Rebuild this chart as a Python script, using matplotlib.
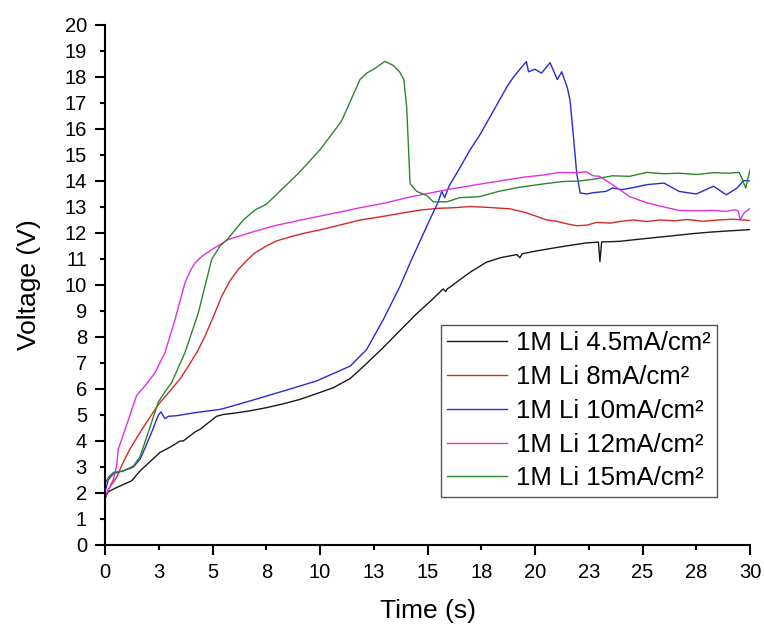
import matplotlib
matplotlib.use("Agg")
import matplotlib.pyplot as plt

plt.rcParams['font.family'] = ['Liberation Sans', 'DejaVu Sans']

# ---------------- data ----------------
series_labels = ["1M Li 4.5mA/cm²", "1M Li 8mA/cm²", "1M Li 10mA/cm²",
                 "1M Li 12mA/cm²", "1M Li 15mA/cm²"]

t_45 = [0, 0.08, 0.16, 0.54, 1.24, 1.63, 2.56, 3.0, 3.49, 3.64, 4.19, 4.42, 5.19, 5.5, 6.0,
        6.74, 7.5, 8.29, 9.07, 9.84, 10.62, 11.4, 12.0, 12.95, 13.72, 14.5, 15.1, 15.73, 15.85,
        15.92, 16.05, 16.5, 17.0, 17.75, 18.4, 19.15, 19.3, 19.4, 20.0, 20.85, 21.6, 22.4, 22.95,
        23.02, 23.1, 23.3, 23.95, 24.6, 25.3, 26.0, 26.7, 27.4, 28.1, 28.8, 29.4, 30]
v_45 = [1.77, 1.95, 2.05, 2.21, 2.47, 2.85, 3.56, 3.75, 4.0, 4.0, 4.35, 4.45, 4.95, 5.02, 5.07,
        5.16, 5.28, 5.43, 5.6, 5.82, 6.05, 6.4, 6.85, 7.6, 8.25, 8.9, 9.35, 9.85, 9.75,
        9.85, 9.92, 10.2, 10.5, 10.88, 11.05, 11.17, 11.05, 11.2, 11.3, 11.42, 11.52, 11.62, 11.65,
        10.9, 11.66, 11.66, 11.68, 11.74, 11.8, 11.86, 11.92, 11.98, 12.03, 12.07, 12.1, 12.13]

t_8 = [0, 0.2, 0.54, 0.8, 1.16, 1.63, 2.0, 2.48, 3.1, 3.5, 3.88, 4.3, 4.65, 5.05, 5.43, 5.8,
       6.2, 6.6, 6.98, 7.5, 8.0, 8.6, 9.2, 10.0, 10.8, 11.86, 12.8, 13.7, 14.65, 15.5, 16.2,
       17.0, 17.9, 18.84, 19.5, 20.08, 20.5, 21.0, 21.5, 21.94, 22.4, 22.87, 23.5, 24.0, 24.6,
       25.2, 25.8, 26.5, 27.1, 27.8, 28.5, 29.2, 29.7, 30]
v_8 = [1.85, 2.2, 2.6, 3.1, 3.69, 4.33, 4.8, 5.4, 6.0, 6.4, 6.88, 7.45, 8.03, 8.8, 9.57, 10.15,
       10.6, 10.95, 11.24, 11.5, 11.7, 11.85, 11.98, 12.12, 12.28, 12.5, 12.62, 12.75, 12.88, 12.95, 12.97,
       13.02, 12.98, 12.93, 12.8, 12.64, 12.51, 12.45, 12.35, 12.28, 12.3, 12.41, 12.38, 12.45, 12.5,
       12.44, 12.5, 12.47, 12.52, 12.45, 12.5, 12.53, 12.5, 12.48]

t_10 = [0, 0.15, 0.39, 0.85, 1.32, 1.63, 1.9, 2.2, 2.48, 2.6, 2.79, 2.95, 3.3, 4.19, 5.39, 6.74,
        8.29, 9.84, 11.4, 12.17, 12.95, 13.72, 14.26, 15.1, 15.5, 15.66, 15.8, 16.0, 16.5, 16.98,
        17.44, 18.0, 18.7, 19.0, 19.3, 19.6, 19.7, 20.0, 20.3, 20.7, 21.04, 21.24, 21.5, 21.63,
        21.8, 21.94, 22.1, 22.4, 22.7, 23.3, 23.6, 24.05, 24.6, 25.2, 26.0, 26.7, 27.5, 28.3,
        28.9, 29.4, 29.7, 30]
v_10 = [2.05, 2.5, 2.75, 2.85, 3.0, 3.3, 3.8, 4.4, 5.0, 5.12, 4.86, 4.95, 4.97, 5.09, 5.22, 5.54,
        5.92, 6.31, 6.88, 7.52, 8.68, 9.95, 10.98, 12.5, 13.2, 13.6, 13.36, 13.8, 14.5, 15.2,
        15.78, 16.6, 17.63, 18.0, 18.3, 18.59, 18.2, 18.3, 18.15, 18.55, 17.9, 18.2, 17.6, 17.1,
        15.6, 14.3, 13.54, 13.5, 13.55, 13.6, 13.73, 13.67, 13.75, 13.86, 13.92, 13.6, 13.5, 13.8,
        13.47, 13.73, 14.02, 14.0]

t_12 = [0, 0.2, 0.39, 0.54, 0.62, 1.0, 1.47, 1.86, 2.33, 2.79, 3.26, 3.72, 4.0, 4.19, 4.5, 4.96,
        5.74, 6.98, 8.0, 9.0, 10.0, 11.0, 11.86, 13.0, 14.0, 15.0, 16.0, 17.44, 18.5, 19.5, 20.3,
        21.16, 21.9, 22.4, 22.7, 23.0, 23.6, 24.4, 25.2, 26.0, 26.7, 27.5, 28.3, 28.9, 29.3,
        29.45, 29.55, 29.7, 30]
v_12 = [1.85, 2.2, 2.53, 3.04, 3.69, 4.6, 5.75, 6.12, 6.63, 7.4, 8.68, 10.08, 10.6, 10.85, 11.1, 11.36,
        11.75, 12.07, 12.3, 12.48, 12.65, 12.82, 12.97, 13.15, 13.35, 13.52, 13.68, 13.88, 14.02, 14.15, 14.22,
        14.33, 14.32, 14.35, 14.2, 14.18, 13.86, 13.4, 13.16, 13.0, 12.87, 12.85, 12.87, 12.83, 12.9,
        12.85, 12.5, 12.75, 12.95]

t_15 = [0, 0.15, 0.39, 0.85, 1.32, 1.63, 2.0, 2.48, 2.8, 3.1, 3.72, 4.34, 4.96, 5.35, 5.74, 6.43,
        7.0, 7.5, 8.0, 9.0, 10.0, 11.0, 11.86, 12.17, 12.5, 13.02, 13.4, 13.7, 13.9, 14.03, 14.19,
        14.5, 14.95, 15.27, 15.9, 16.5, 17.44, 18.3, 19.2, 20.5, 21.3, 22.1, 22.8, 23.6, 24.4,
        25.2, 26.0, 26.7, 27.5, 28.3, 29.0, 29.5, 29.65, 29.8, 30]
v_15 = [2.34, 2.6, 2.79, 2.85, 3.04, 3.4, 4.3, 5.5, 5.9, 6.25, 7.4, 8.93, 10.98, 11.5, 11.8, 12.5,
        12.9, 13.1, 13.5, 14.3, 15.2, 16.3, 17.9, 18.15, 18.3, 18.6, 18.45, 18.2, 17.9, 16.86, 13.9,
        13.6, 13.45, 13.2, 13.2, 13.36, 13.4, 13.6, 13.75, 13.9, 13.98, 14.0, 14.08, 14.2, 14.18,
        14.33, 14.28, 14.3, 14.25, 14.32, 14.3, 14.33, 14.05, 13.73, 14.43]

x_major_ticks = [0, 5, 10, 15, 20, 25, 30]
x_major_labels = ["0", "5", "10", "15", "20", "25", "30"]
x_minor_ticks = [2.5, 7.5, 12.5, 17.5, 22.5, 27.5]
x_minor_labels = ["3", "8", "13", "18", "23", "28"]
y_major_ticks = list(range(0, 21, 2))
y_minor_ticks = list(range(1, 20, 2))

colors = ["#1a1a1a", "#d42a2a", "#2a2ad4", "#e030e0", "#2a882a"]

# ---------------- plot ----------------
fig = plt.figure(figsize=(7.64, 6.27), dpi=100)
ax = fig.add_axes([105 / 764, (627 - 545) / 627, 645 / 764, 520 / 627])

for (t, v), c, lab in zip([(t_45, v_45), (t_8, v_8), (t_10, v_10), (t_12, v_12), (t_15, v_15)],
                          colors, series_labels):
    ax.plot(t, v, color=c, lw=1.0, label=lab)

ax.set_xlim(0, 30)
ax.set_ylim(0, 20)
for s in ["top", "right"]:
    ax.spines[s].set_visible(False)
for s in ["left", "bottom"]:
    ax.spines[s].set_linewidth(1.5)

ax.set_xticks(x_major_ticks)
ax.set_xticklabels(x_major_labels)
ax.set_xticks(x_minor_ticks, minor=True)
ax.set_xticklabels(x_minor_labels, minor=True)
ax.set_yticks(y_major_ticks)
ax.set_yticklabels([str(v) for v in y_major_ticks])
ax.set_yticks(y_minor_ticks, minor=True)
ax.set_yticklabels([str(v) for v in y_minor_ticks], minor=True)

ax.tick_params(axis="both", which="major", length=7, width=1.5, labelsize=14.5, direction="out")
ax.tick_params(axis="both", which="minor", length=3.6, width=1.5, labelsize=14.5, direction="out")
ax.tick_params(axis="x", which="major", pad=6)
ax.tick_params(axis="x", which="minor", pad=6 + 3.4)
ax.tick_params(axis="y", which="major", pad=6)
ax.tick_params(axis="y", which="minor", pad=6 + 3.4)

ax.set_xlabel("Time (s)", fontsize=19, labelpad=12)
ax.set_ylabel("Voltage (V)", fontsize=19, labelpad=17)

leg = ax.legend(loc="upper left", bbox_to_anchor=((441 - 105) / 645, (545 - 325) / 520),
                borderaxespad=0, fontsize=18.5, handlelength=2.3, handletextpad=0.35,
                labelspacing=0.38, borderpad=0.25, fancybox=False, framealpha=1)
leg.get_frame().set_edgecolor("#555555")
leg.get_frame().set_linewidth(1.0)

fig.savefig("out.png", dpi=100)
